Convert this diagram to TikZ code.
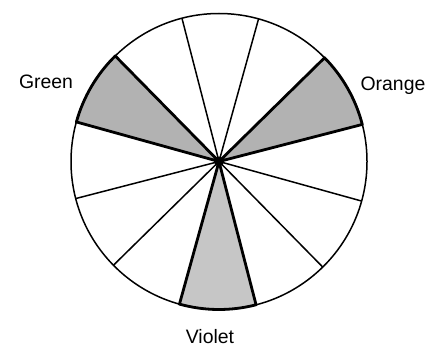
\documentclass[tikz,border=0pt]{standalone}
\usepackage{fontspec}
\setmainfont{Liberation Sans}
\begin{document}
\begin{tikzpicture}[x=1bp,y=1bp,
  thinline/.style={line width=1.5bp},
  thickline/.style={line width=2.8bp, line join=round},
  shadedark/.style={fill=gray!60},
  shadelight/.style={fill=gray!45},
  lbl/.style={font=\fontsize{19.5}{22}\selectfont, anchor=base, inner sep=0pt}]
\useasboundingbox (0,0) rectangle (442,349);
\coordinate (c) at (219,187.5);
\def\R{148}
\foreach \i in {0,...,11}{
  \path (c) ++({14.5+30*\i}:\R) coordinate (p\i);
}
% shaded sectors
\draw[thickline, shadedark] (c) -- (p0) arc[start angle=14.5, end angle=44.5, radius=\R] -- cycle;
\draw[thickline, shadedark] (c) -- (p4) arc[start angle=134.5, end angle=164.5, radius=\R] -- cycle;
\draw[thickline, shadelight] (c) -- (p8) arc[start angle=254.5, end angle=284.5, radius=\R] -- cycle;
% circle
\draw[thinline] (c) circle[radius=\R];
% thin spokes
\foreach \i in {2,3,6,7,10,11}{
  \draw[thinline] (c) -- (p\i);
}
\node[circle, fill=black, inner sep=0pt, minimum size=10bp] (hub) at (c) {};
% labels
\node[lbl] (green) at (46,260.7) {Green};
\node[lbl] (orange) at (393,259) {Orange};
\node[lbl] (violet) at (210,6) {Violet};
\end{tikzpicture}
\end{document}
